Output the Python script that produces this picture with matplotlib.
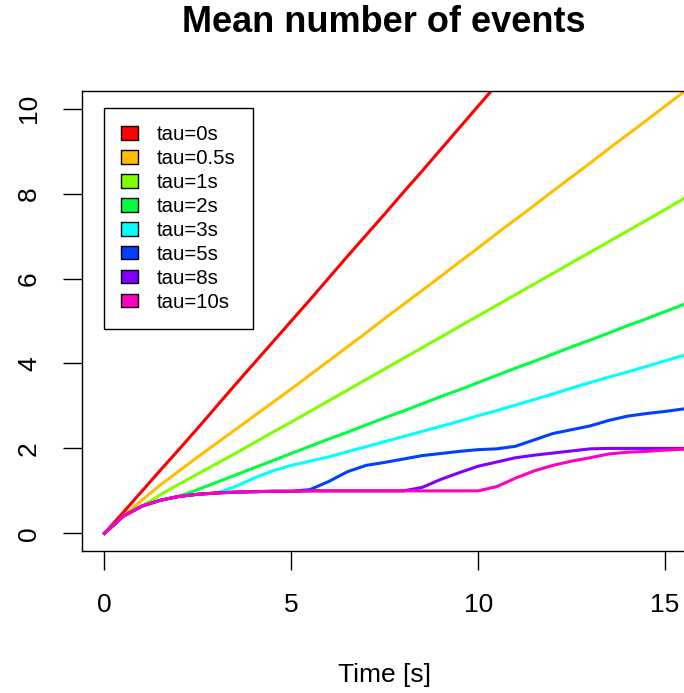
import numpy as np
import matplotlib.pyplot as plt
from matplotlib.patches import Patch

plt.rcParams['font.family'] = ['Liberation Sans', 'DejaVu Sans']

# time grid (s)
time_s = np.arange(0, 16, 0.5)

# mean number of events, one list per dead time tau
tau_0 = [0, 0.49, 0.99, 1.49, 1.98, 2.48, 2.99, 3.5, 4.0, 4.5, 5.0, 5.5, 6.01, 6.52, 7.02, 7.52,
         8.03, 8.53, 9.04, 9.55, 10.06, 10.57, 11.07, 11.58, 12.08, 12.59, 13.09, 13.6, 14.1, 14.61, 15.11, 15.62]
tau_05 = [0, 0.40, 0.78, 1.14, 1.47, 1.8, 2.12, 2.44, 2.76, 3.08, 3.4, 3.73, 4.06, 4.39, 4.72, 5.06,
          5.39, 5.72, 6.05, 6.39, 6.72, 7.06, 7.39, 7.72, 8.06, 8.39, 8.72, 9.06, 9.39, 9.72, 10.06, 10.39]
tau_1 = [0, 0.40, 0.64, 0.91, 1.16, 1.4, 1.64, 1.88, 2.13, 2.38, 2.62, 2.87, 3.12, 3.37, 3.62, 3.87,
         4.12, 4.37, 4.62, 4.87, 5.12, 5.37, 5.62, 5.87, 6.12, 6.37, 6.62, 6.87, 7.12, 7.37, 7.62, 7.88]
tau_2 = [0, 0.40, 0.64, 0.78, 0.87, 1.03, 1.2, 1.37, 1.54, 1.71, 1.88, 2.05, 2.22, 2.38, 2.55, 2.72,
         2.88, 3.05, 3.22, 3.38, 3.55, 3.72, 3.89, 4.05, 4.22, 4.39, 4.55, 4.72, 4.89, 5.05, 5.22, 5.39]
tau_3 = [0, 0.40, 0.64, 0.78, 0.87, 0.92, 0.95, 1.1, 1.3, 1.47, 1.6, 1.7, 1.8, 1.92, 2.04, 2.16,
         2.28, 2.4, 2.52, 2.64, 2.77, 2.89, 3.02, 3.15, 3.28, 3.42, 3.55, 3.68, 3.8, 3.93, 4.06, 4.19]
tau_5 = [0, 0.40, 0.64, 0.78, 0.87, 0.92, 0.95, 0.97, 0.98, 0.99, 0.99, 1.03, 1.22, 1.45, 1.6, 1.67,
         1.75, 1.83, 1.88, 1.93, 1.97, 1.99, 2.05, 2.2, 2.35, 2.44, 2.53, 2.66, 2.76, 2.82, 2.87, 2.93]
tau_8 = [0, 0.40, 0.64, 0.78, 0.87, 0.92, 0.95, 0.97, 0.98, 0.99, 0.99, 1.0, 1.0, 1.0, 1.0, 1.0,
         1.0, 1.08, 1.27, 1.43, 1.58, 1.68, 1.78, 1.84, 1.89, 1.94, 1.99, 2.0, 2.0, 2.0, 2.0, 2.0]
tau_10 = [0, 0.40, 0.64, 0.78, 0.87, 0.92, 0.95, 0.97, 0.98, 0.99, 0.99, 1.0, 1.0, 1.0, 1.0, 1.0,
          1.0, 1.0, 1.0, 1.0, 1.0, 1.1, 1.3, 1.47, 1.6, 1.7, 1.78, 1.87, 1.91, 1.93, 1.96, 1.98]

labels = ['tau=0s', 'tau=0.5s', 'tau=1s', 'tau=2s', 'tau=3s', 'tau=5s', 'tau=8s', 'tau=10s']
series = [tau_0, tau_05, tau_1, tau_2, tau_3, tau_5, tau_8, tau_10]
# R rainbow(8)
colors = ['#FF0000', '#FFBF00', '#80FF00', '#00FF40', '#00FFFF', '#0040FF', '#8000FF', '#FF00BF']

fig = plt.figure(figsize=(6.84, 6.93), dpi=100)
ax = fig.add_axes([82 / 684, 142 / 693, 605.4 / 684, 460 / 693])

for y, c in zip(series, colors):
    ax.plot(time_s, y, color=c, lw=2.2)

ax.set_xlim(-0.6, 15.6)
ax.set_ylim(-0.416, 10.416)
ax.set_xticks([0, 5, 10, 15])
ax.set_yticks([0, 2, 4, 6, 8, 10])
ax.tick_params(direction='out', length=13.5, width=1, labelsize=19, color='black')
ax.tick_params(axis='x', pad=17)
ax.tick_params(axis='y', pad=16)
for lab in ax.get_yticklabels():
    lab.set_rotation(90)
    lab.set_va('center')
for s in ax.spines.values():
    s.set_linewidth(1)

ax.set_xlabel('Time [s]', fontsize=19, va='center')
ax.xaxis.set_label_coords(0.5, -0.27)
fig.text(384 / 684, 1 - 22 / 693, 'Mean number of events', fontsize=26, fontweight='bold',
         ha='center', va='center')

handles = [Patch(facecolor=c, edgecolor='black', lw=1) for c in colors]
leg = ax.legend(handles, labels, loc='upper left', bbox_to_anchor=(0.036, 0.963), fontsize=14.7,
                frameon=True, fancybox=False, framealpha=1, edgecolor='black', borderpad=0.85,
                labelspacing=0.24, handlelength=0.83, handleheight=0.64, handletextpad=0.9,
                borderaxespad=0)
leg.get_frame().set_linewidth(1)

plt.savefig('out.png', dpi=100)
